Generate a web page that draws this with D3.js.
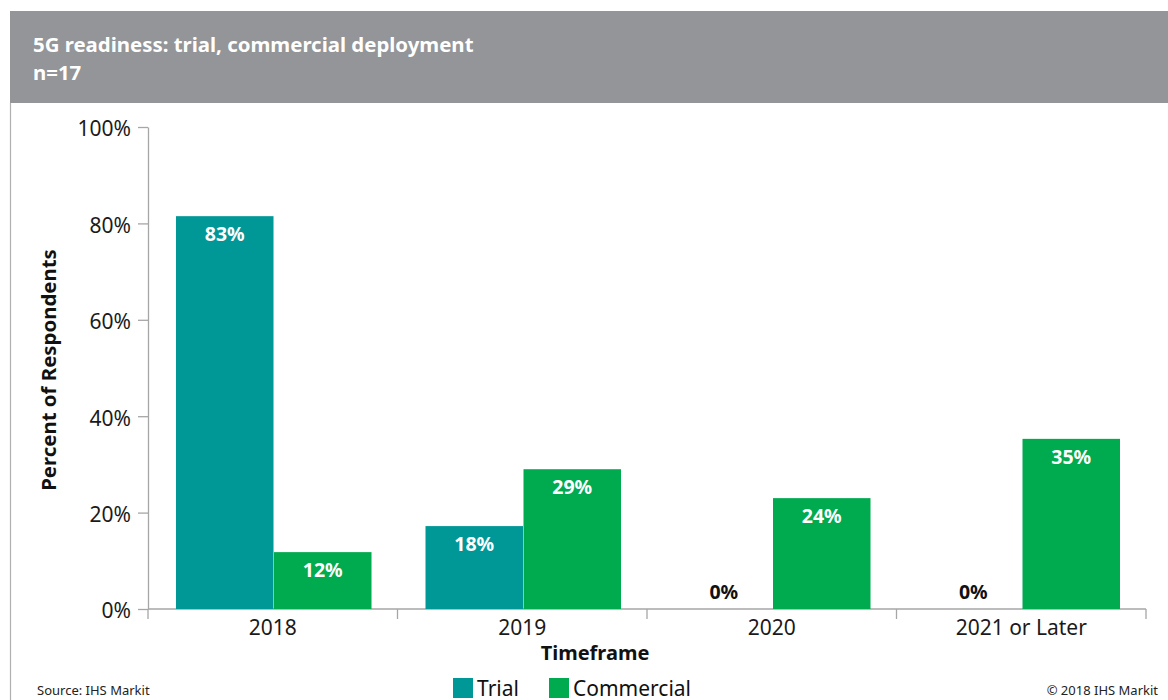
<!DOCTYPE html>
<html lang="en">
<head>
    <meta charset="utf-8">
    <script src="https://cdn.jsdelivr.net/npm/d3@7"></script>
    <style>
        body { margin: 0; background: white; }
        text { font-family: "Noto Sans", sans-serif; }
        .axis path, .axis line { stroke: #a6a6a6; stroke-width: 1.3px; }
        .axis text { font-size: 21px; fill: #1a1a1a; }
        .lbl { font-weight: bold; font-size: 19.5px; text-anchor: middle; }
    </style>
</head>
<body>
<script>
    // data
    let timeframes = ['2018', '2019', '2020', '2021 or Later'];
    let series = ['Trial', 'Commercial'];
    let trial = [81.5, 17.2, 0, 0];
    let commercial = [11.8, 29, 23, 35.3];
    let trialLabels = ['83%', '18%', '0%', '0%'];
    let commercialLabels = ['12%', '29%', '24%', '35%'];
    let yTicks = [0, 20, 40, 60, 80, 100];
    let colors = ['#009797', '#00aa4f'];

    let W = 1168, H = 700;
    let svg = d3.select('body').append('svg').attr('width', W).attr('height', H);

    // header band
    svg.append('rect').attr('x', 10).attr('y', 11).attr('width', W - 10).attr('height', 92)
        .attr('fill', '#939598');
    svg.append('line').attr('x1', 10.5).attr('x2', 10.5).attr('y1', 103).attr('y2', H)
        .attr('stroke', '#b0b0b0').attr('stroke-width', 1.2);
    svg.append('text').attr('x', 33).attr('y', 52).text('5G readiness: trial, commercial deployment')
        .attr('fill', 'white').attr('font-weight', 'bold').attr('font-size', 20.4);
    svg.append('text').attr('x', 33).attr('y', 80).text('n=17')
        .attr('fill', 'white').attr('font-weight', 'bold').attr('font-size', 20.4);

    let x0 = 148, x1 = 1146, yTop = 127, yBot = 609;
    let x = d3.scaleBand().domain(timeframes).range([x0, x1]);
    let xs = d3.scaleBand().domain(series).range([28, x.bandwidth() - 26]).paddingInner(0.005);
    let y = d3.scaleLinear().domain([0, 100]).range([yBot, yTop]);

    let g = svg.append('g');

    // y axis
    g.append('g').attr('class', 'axis').attr('transform', 'translate(' + x0 + ',0)')
        .call(d3.axisLeft(y).tickValues(yTicks).tickFormat(d => d + '%').tickSize(10).tickSizeOuter(0).tickPadding(7))
        .selectAll('text').attr('dy', '0.42em');

    // x axis, ticks at band edges
    let xa = g.append('g').attr('class', 'axis').attr('transform', 'translate(0,' + yBot + ')');
    xa.append('line').attr('x1', x0).attr('x2', x1).attr('y1', 0).attr('y2', 0);
    xa.selectAll('.tk').data(timeframes.concat(['end'])).enter().append('line')
        .attr('x1', (d, i) => x0 + i * x.bandwidth()).attr('x2', (d, i) => x0 + i * x.bandwidth())
        .attr('y1', 0).attr('y2', 10);
    xa.selectAll('.xl').data(timeframes).enter().append('text')
        .attr('x', d => x(d) + x.bandwidth() / 2).attr('y', 26)
        .attr('text-anchor', 'middle').text(d => d);

    let rows = timeframes.map((t, i) => ({t: t, vals: [trial[i], commercial[i]], labs: [trialLabels[i], commercialLabels[i]]}));

    let groups = g.selectAll('.grp').data(rows).enter().append('g')
        .attr('transform', d => 'translate(' + x(d.t) + ',0)');

    groups.selectAll('rect').data(d => series.map((s, j) => ({s: s, v: d.vals[j], lab: d.labs[j], j: j})))
        .enter().append('rect')
        .attr('x', d => xs(d.s)).attr('width', xs.bandwidth())
        .attr('y', d => y(d.v)).attr('height', d => yBot - y(d.v))
        .attr('fill', d => colors[d.j]);

    groups.selectAll('.lbl').data(d => series.map((s, j) => ({s: s, v: d.vals[j], lab: d.labs[j]})))
        .enter().append('text').attr('class', 'lbl')
        .attr('x', d => xs(d.s) + xs.bandwidth() / 2)
        .attr('y', d => d.v > 0 ? y(d.v) + 25 : yBot - 10)
        .attr('fill', d => d.v > 0 ? 'white' : '#111')
        .text(d => d.lab);

    // axis titles
    svg.append('text').attr('x', 595).attr('y', 660).attr('text-anchor', 'middle')
        .attr('font-weight', 'bold').attr('font-size', 20).attr('fill', '#111').text('Timeframe');
    svg.append('text').attr('transform', 'translate(56,370) rotate(-90)').attr('text-anchor', 'middle')
        .attr('font-weight', 'bold').attr('font-size', 20.4).attr('fill', '#111').text('Percent of Respondents');

    // legend
    let legX = [453, 549];
    let leg = svg.selectAll('.leg').data(series).enter().append('g')
        .attr('transform', (d, i) => 'translate(' + legX[i] + ',678)');
    leg.append('rect').attr('width', 20).attr('height', 20).attr('fill', (d, i) => colors[i]);
    leg.append('text').attr('x', 24).attr('y', 18).attr('font-size', 21).attr('fill', '#111').text(d => d);

    // footer
    svg.append('text').attr('x', 37).attr('y', 695).attr('font-size', 13).attr('fill', '#222').text('Source: IHS Markit');
    svg.append('text').attr('x', 1158).attr('y', 695).attr('font-size', 13).attr('fill', '#222')
        .attr('text-anchor', 'end').text('\u00a9 2018 IHS Markit');
</script>
</body>
</html>
